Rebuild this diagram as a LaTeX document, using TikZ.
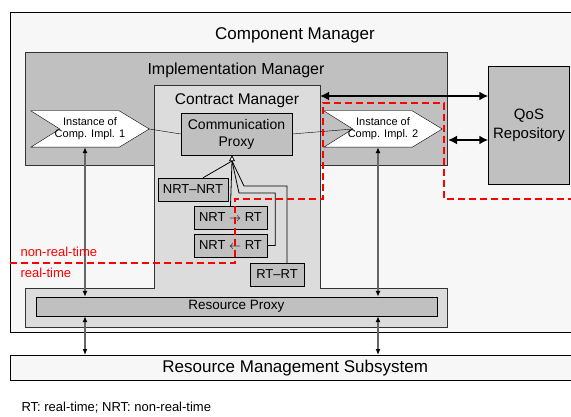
\documentclass[tikz,border=0pt]{standalone}
\usepackage{fontspec}
\setmainfont{Liberation Sans}
\usetikzlibrary{arrows.meta,positioning}
\definecolor{palebg}{HTML}{F7F7F7}
\definecolor{darkbox}{HTML}{C0C0C0}
\definecolor{lightbox}{HTML}{DCDCDC}
\newcommand{\fsz}[1]{\fontsize{#1}{#1}\selectfont}
\begin{document}
\begin{tikzpicture}[x=1pt, y=-1pt, line join=miter, >=Latex,
	box/.style={draw, fill=darkbox, inner sep=0pt},
	minibox/.style={box, minimum height=23, font=\fsz{13}},
	inst/.style={minimum width=118, minimum height=36, inner sep=0pt, align=center, font=\fontsize{11}{12}\selectfont},
	vline/.style={draw=black!60, line width=1.2pt, {Latex[color=black,length=6pt,width=5pt]}-{Latex[color=black,length=6pt,width=5pt]}},
	bigarrow/.style={line width=2pt, {Latex[length=9pt,width=9pt]}-{Latex[length=9pt,width=9pt]}},
	rtline/.style={red, line width=2pt, dash pattern=on 7pt off 4pt}]
	\useasboundingbox (0,0) rectangle (571,417);
	\clip (0,0) rectangle (571,417);
	% outer containers
	\node[draw, fill=palebg, minimum width=570, minimum height=320, anchor=north west] (cmgr) at (10,12) {};
	\node[font=\fsz{17}] (cmlabel) at (295,35) {Component Manager};
	\node[draw, fill=palebg, minimum width=570, minimum height=25, anchor=north west, font=\fsz{17}] (rms) at (10,355) {Resource Management Subsystem};
	\node[draw=black!80, line width=1pt, fill=darkbox, minimum width=422, minimum height=113, anchor=north west] (im) at (25,52) {};
	\node[font=\fsz{16}] (imlabel) at (236,70) {Implementation Manager};
	% contract manager (T shape)
	\draw[draw=black!80, line width=1pt, fill=lightbox] (154,86) -- (320,86) -- (320,288) -- (447,288)
		-- (447,327) -- (25,327) -- (25,288) -- (154,288) -- cycle;
	\node[font=\fsz{15.5}] (ctmlabel) at (237,101) {Contract Manager};
	\coordinate (ctmr) at (320,96);
	% inner boxes
	\node[box, minimum width=111, minimum height=42, align=center, font=\fontsize{14}{17}\selectfont] (cp) at (236.5,134) {Communication\\Proxy};
	\node[box, minimum width=81, minimum height=118, align=center, font=\fontsize{15}{19}\selectfont] (qos) at (529,125) {QoS\\Repository};
	\node[box, minimum width=401, minimum height=19, font=\fsz{13.5}] (rp) at (236.5,306.5) {Resource Proxy};
	\path (90,129) node[inst] (inst1) {} (383,129) node[inst] (inst2) {};
	\foreach \i/\n in {inst1/1,inst2/2}{
		\draw[fill=white] (\i.north west) -- ([xshift=-30]\i.north east) -- (\i.east)
			-- ([xshift=-30]\i.south east) -- (\i.south west) -- ([xshift=29]\i.west) -- cycle;
		\node[inst] at (\i) {Instance of\\Comp. Impl. \n};}
	\coordinate (notch2) at ([xshift=29]inst2.west);
	% mode boxes
	\node[minibox, minimum width=70] (nn) at (193,189.5) {NRT--NRT};
	\node[minibox, minimum width=73] (nr) at (230.5,217.5) {NRT $\rightarrow$ RT};
	\node[minibox, minimum width=73] (rn) at (230.5,245.5) {NRT $\leftarrow$ RT};
	\node[minibox, minimum width=54] (rr) at (277,274.5) {RT--RT};
	\coordinate (apex) at (232,161);
	\begin{scope}[line width=0.8pt]
		\draw ([xshift=10]nn.north) -- (apex);
		\draw (nr.north) -- (apex);
		\draw (rn.east) -- ++(8,0) |- (239,193) -- (apex);
		\draw ([xshift=10]rr.north) |- (244,186) -- (apex);
		\draw[-{Triangle[open, fill=white, length=6pt, width=6pt]}] (apex) -- (apex |- cp.south);
	\end{scope}
	% connectors
	\draw (inst1.east) -- (cp.west);
	\draw (cp.east) -- (notch2);
	\draw[bigarrow] (ctmr) -- (qos.west |- ctmr);
	\draw[bigarrow] (im.east |- 0,140) -- (qos.west |- 0,140);
	\draw[vline] ([xshift=-5]inst1.south) -- ([xshift=-5]inst1.south |- rp.north);
	\draw[vline] ([xshift=-5]inst2.south) -- ([xshift=-5]inst2.south |- rp.north);
	\draw[vline] ([xshift=-5]inst1.south |- rp.south) -- ([xshift=-5]inst1.south |- rms.north);
	\draw[vline] ([xshift=-5]inst2.south |- rp.south) -- ([xshift=-5]inst2.south |- rms.north);
	% real-time boundary
	\draw[rtline] (10,263) -- (235,263) -- (235,199) -- (323,199) -- (323,103)
		-- (444,103) -- (444,199) -- (575,199);
	\node[red, anchor=west, font=\fsz{13}] (nrtlabel) at (17,252) {non-real-time};
	\node[red, anchor=west, font=\fsz{13}] (rtlabel) at (17,273) {real-time};
	\node[anchor=west, font=\fsz{13}] (legend) at (18,408) {RT: real-time; NRT: non-real-time};
\end{tikzpicture}
\end{document}
